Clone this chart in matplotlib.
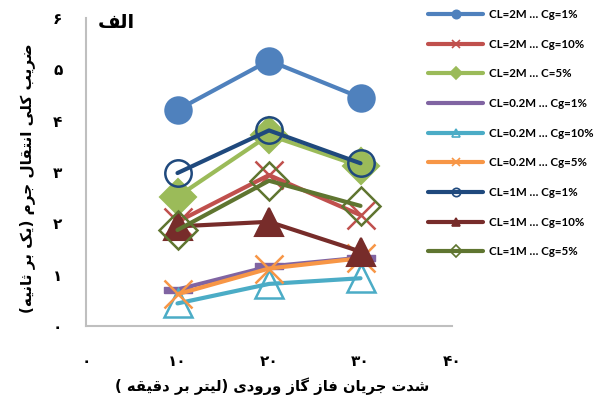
import matplotlib
matplotlib.use("Agg")
import matplotlib.pyplot as plt
from matplotlib.lines import Line2D

# ---------------- data ----------------
x_vals = [10, 20, 30]
series_labels = ["CL=2M … Cg=1%", "CL=2M … Cg=10%", "CL=2M … C=5%",
                 "CL=0.2M … Cg=1%", "CL=0.2M … Cg=10%", "CL=0.2M … Cg=5%",
                 "CL=1M … Cg=1%", "CL=1M … Cg=10%", "CL=1M … Cg=5%"]
s_2M_1 = [4.21, 5.17, 4.45]
s_2M_10 = [2.03, 2.94, 2.16]
s_2M_5 = [2.52, 3.72, 3.11]
s_02M_1 = [0.71, 1.16, 1.33]
s_02M_10 = [0.44, 0.82, 0.93]
s_02M_5 = [0.62, 1.12, 1.32]
s_1M_1 = [2.98, 3.81, 3.17]
s_1M_10 = [1.94, 2.03, 1.45]
s_1M_5 = [1.87, 2.83, 2.34]
series_values = [s_2M_1, s_2M_10, s_2M_5, s_02M_1, s_02M_10, s_02M_5, s_1M_1, s_1M_10, s_1M_5]
x_ticks = [0, 10, 20, 30, 40]
y_ticks = [0, 1, 2, 3, 4, 5, 6]
title_text = "الف"
xlabel_text = "شدت جریان فاز گاز ورودی (لیتر بر دقیقه )"
ylabel_text = "ضریب کلی انتقال جرم (یک بر ثانیه)"

# --------------- minimal Arabic/Persian shaping ---------------
FORMS = {
    'ا': ('\uFE8D', '\uFE8E', None, None),
    'ب': ('\uFE8F', '\uFE90', '\uFE91', '\uFE92'),
    'ت': ('\uFE95', '\uFE96', '\uFE97', '\uFE98'),
    'ث': ('\uFE99', '\uFE9A', '\uFE9B', '\uFE9C'),
    'ج': ('\uFE9D', '\uFE9E', '\uFE9F', '\uFEA0'),
    'د': ('\uFEA9', '\uFEAA', None, None),
    'ر': ('\uFEAD', '\uFEAE', None, None),
    'ز': ('\uFEAF', '\uFEB0', None, None),
    'ش': ('\uFEB5', '\uFEB6', '\uFEB7', '\uFEB8'),
    'ض': ('\uFEBD', '\uFEBE', '\uFEBF', '\uFEC0'),
    'ف': ('\uFED1', '\uFED2', '\uFED3', '\uFED4'),
    'ق': ('\uFED5', '\uFED6', '\uFED7', '\uFED8'),
    'ل': ('\uFEDD', '\uFEDE', '\uFEDF', '\uFEE0'),
    'م': ('\uFEE1', '\uFEE2', '\uFEE3', '\uFEE4'),
    'ن': ('\uFEE5', '\uFEE6', '\uFEE7', '\uFEE8'),
    'ه': ('\uFEE9', '\uFEEA', '\uFEEB', '\uFEEC'),
    'و': ('\uFEED', '\uFEEE', None, None),
    'ی': ('\uFBFC', '\uFBFD', '\uFBFE', '\uFBFF'),
    'ک': ('\uFB8E', '\uFB8F', '\uFB90', '\uFB91'),
    'گ': ('\uFB92', '\uFB93', '\uFB94', '\uFB95'),
}


def shape(text):
    out = []
    chars = list(text)
    n = len(chars)
    i = 0
    while i < n:
        c = chars[i]
        if c not in FORMS:
            out.append(c)
            i += 1
            continue
        prev = chars[i - 1] if i > 0 else None
        joins_prev = prev in FORMS and FORMS[prev][2] is not None
        if c == 'ل' and i + 1 < n and chars[i + 1] == 'ا':
            out.append('\uFEFC' if joins_prev else '\uFEFB')
            i += 2
            continue
        nxt = chars[i + 1] if i + 1 < n else None
        joins_next = FORMS[c][2] is not None and nxt in FORMS
        iso, fin, ini, med = FORMS[c]
        if joins_prev and joins_next:
            out.append(med)
        elif joins_prev:
            out.append(fin)
        elif joins_next:
            out.append(ini)
        else:
            out.append(iso)
        i += 1
    vis = ''.join(reversed(out))
    vis = vis.translate(str.maketrans({'(': ')', ')': '('}))
    return vis


def fa_digits(v):
    return str(v).translate(str.maketrans('0123456789', '۰۱۲۳۴۵۶۷۸۹'))


# --------------- styles ---------------
colors = ['#4F81BD', '#C0504D', '#9BBB59', '#8064A2', '#4BACC6',
          '#F79646', '#1F497D', '#772C2A', '#5F7530']
purple_bar = [(-2.2, -0.55), (2.2, -0.55), (2.2, 0.55), (-2.2, 0.55), (-2.2, -0.55)]
markers = ['o', 'x', 'D', purple_bar, '^', 'x', 'o', '^', 'D']
filled = [True, True, True, True, False, True, False, True, False]
msizes = [19, 20, 18, 20, 20, 20, 19, 20, 19]
mews = [1.5, 1.8, 1.5, 1.0, 1.8, 1.8, 1.8, 1.5, 1.8]

plt.rcParams['font.family'] = ['DejaVu Sans']
fig = plt.figure(figsize=(6.09, 4.01), dpi=100)
ax = fig.add_axes([86 / 609, (401 - 326) / 401, (452 - 86) / 609, (326 - 18) / 401])

for vals, col, mk, fl, ms, mw in zip(series_values, colors, markers, filled, msizes, mews):
    ax.plot(x_vals, vals, color=col, lw=3.0, marker=mk, markersize=ms,
            markerfacecolor=col if fl else 'none', markeredgecolor=col,
            markeredgewidth=mw, solid_capstyle='round', solid_joinstyle='round')

ax.set_xlim(0, 40)
ax.set_ylim(0, 6)
ax.set_xticks(x_ticks)
ax.set_yticks(y_ticks)
ax.set_xticklabels([fa_digits(v) for v in x_ticks], fontsize=11, fontweight='bold')
ax.set_yticklabels([fa_digits(v) for v in y_ticks], fontsize=11, fontweight='bold')
ax.tick_params(axis='both', length=0)
ax.tick_params(axis='x', pad=20)
ax.tick_params(axis='y', pad=17)
for sp in ['top', 'right']:
    ax.spines[sp].set_visible(False)
for sp in ['left', 'bottom']:
    ax.spines[sp].set_color('#BFBFBF')
    ax.spines[sp].set_linewidth(1.5)

fig.text(116 / 609, 1 - 23 / 401, shape(title_text), fontsize=14, fontweight='bold',
         ha='center', va='center')
fig.text(272 / 609, 1 - 386 / 401, shape(xlabel_text), fontsize=10.6, fontweight='bold',
         ha='center', va='center')
fig.text(27 / 609, 1 - 178 / 401, shape(ylabel_text), fontsize=11, fontweight='bold',
         ha='center', va='center', rotation=90)

# legend proxies (small markers as in the reference legend)
leg_handles = []
for col, mk, fl in zip(colors, markers, filled):
    leg_handles.append(Line2D([0], [0], color=col, lw=3.0, marker=mk, markersize=6,
                              markerfacecolor=col if fl else 'none', markeredgecolor=col,
                              markeredgewidth=1.2, solid_capstyle='round'))
leg = fig.legend(leg_handles, series_labels, loc='upper left',
                 bbox_to_anchor=(428 / 609, 1 - 9 / 401), frameon=False,
                 prop={'family': 'Lato', 'weight': 'bold', 'size': 8.3}, handlelength=4.8,
                 handletextpad=0.5, labelspacing=1.62, borderpad=0, borderaxespad=0)

fig.savefig('out.png', dpi=100)
